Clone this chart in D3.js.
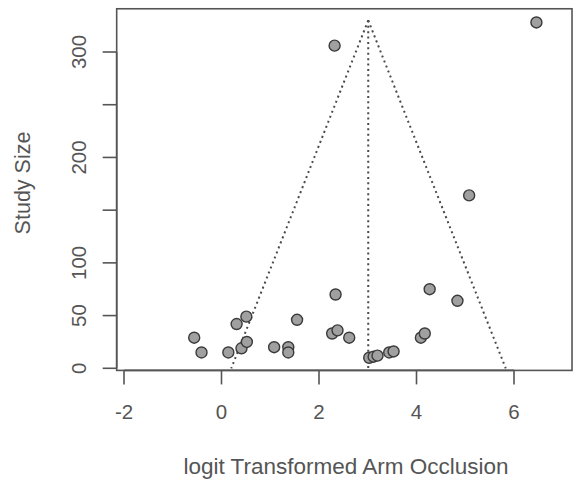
<!DOCTYPE html>
<html>
<head>
<meta charset="utf-8">
<script src="https://cdn.jsdelivr.net/npm/d3@7"></script>
<style>
  html, body { margin: 0; padding: 0; background: #fff; }
  svg { display: block; }
  text { font-family: "Liberation Sans", Arial, sans-serif; fill: #555; }
</style>
</head>
<body>
<svg id="chart" width="576" height="486"></svg>
<script>
// Data
const effect = [6.46, 2.32, 5.08, 2.34, 4.27, 4.84, 0.51, 0.31, 1.55, -0.56, -0.41, 0.14, 0.41, 0.52, 1.08, 1.37, 1.37, 2.27, 2.38, 2.62, 4.09, 4.17, 3.03, 3.12, 3.20, 3.44, 3.53];
const studySize = [328, 306, 164, 70, 75, 64, 49, 42, 46, 29, 15, 15, 19, 25, 20, 20, 15, 33, 36, 29, 29, 33, 10, 11, 12, 15, 16];
const pooledEffect = 3.01;
const funnelTop = 330;
const funnelLower = 0.2;
const funnelUpper = 5.83;
const xTicks = [-2, 0, 2, 4, 6];
const yTicks = [0, 50, 100, 150, 200, 250, 300];
const yTickLabels = ["0", "50", "100", "", "200", "", "300"];
const xLabel = "logit Transformed Arm Occlusion";
const yLabel = "Study Size";

const svg = d3.select("#chart");
const x = d3.scaleLinear().domain([-2, 6]).range([124, 514]);
const y = d3.scaleLinear().domain([0, 300]).range([368.3, 52]);

const boxL = x(-2.15), boxR = x(7.19), boxT = y(341), boxB = y(-2);

// funnel lines
const dotted = { stroke: "#4a4a4a", width: 2, dash: "2,3.4" };
function seg(x1, y1, x2, y2) {
  svg.append("line")
    .attr("x1", x(x1)).attr("y1", y(y1)).attr("x2", x(x2)).attr("y2", y(y2))
    .attr("stroke", dotted.stroke).attr("stroke-width", dotted.width)
    .attr("stroke-dasharray", dotted.dash);
}
seg(pooledEffect, funnelTop, funnelLower, 0);
seg(pooledEffect, funnelTop, funnelUpper, 0);
seg(pooledEffect, funnelTop, pooledEffect, 0);

// points
const pts = effect.map((e, i) => ({ e, n: studySize[i] }));
svg.append("g").selectAll("circle").data(pts).join("circle")
  .attr("cx", d => x(d.e)).attr("cy", d => y(d.n)).attr("r", 5.5)
  .attr("fill", "#a0a0a0").attr("stroke", "#3a3a3a").attr("stroke-width", 1.4);

// box
svg.append("rect").attr("x", boxL).attr("y", boxT)
  .attr("width", boxR - boxL).attr("height", boxB - boxT)
  .attr("fill", "none").attr("stroke", "#555").attr("stroke-width", 1.6);

// x axis
const xg = svg.append("g").attr("transform", `translate(0,${boxB})`);
xg.selectAll("line.tick").data(xTicks).join("line")
  .attr("x1", d => x(d)).attr("x2", d => x(d)).attr("y1", 0).attr("y2", 14)
  .attr("stroke", "#555").attr("stroke-width", 1.6);
xg.append("line").attr("x1", x(-2)).attr("x2", x(6)).attr("y1", 0).attr("y2", 0)
  .attr("stroke", "#555").attr("stroke-width", 1.6);
xg.selectAll("text").data(xTicks).join("text")
  .attr("x", d => x(d)).attr("y", 49).attr("text-anchor", "middle")
  .attr("font-size", 20.5).text(d => d);

// y axis
const yg = svg.append("g").attr("transform", `translate(${boxL},0)`);
yg.append("line").attr("x1", 0).attr("x2", 0).attr("y1", y(0)).attr("y2", y(300))
  .attr("stroke", "#555").attr("stroke-width", 1.6);
yg.selectAll("line.tick").data(yTicks).join("line")
  .attr("x1", -14).attr("x2", 0).attr("y1", d => y(d)).attr("y2", d => y(d))
  .attr("stroke", "#555").attr("stroke-width", 1.6);
yg.selectAll("text").data(yTicks).join("text")
  .attr("transform", d => `translate(-38,${y(d)}) rotate(-90)`)
  .attr("text-anchor", "middle").attr("dy", "0.36em")
  .attr("font-size", 20.5).text((d, i) => yTickLabels[i]);

// axis titles
svg.append("text").attr("x", (185 + 507) / 2).attr("y", 474)
  .attr("text-anchor", "middle").attr("font-size", 22.5).text(xLabel);
svg.append("text").attr("transform", `translate(30,183) rotate(-90)`)
  .attr("text-anchor", "middle").attr("font-size", 21.5).text(yLabel);
</script>
</body>
</html>
